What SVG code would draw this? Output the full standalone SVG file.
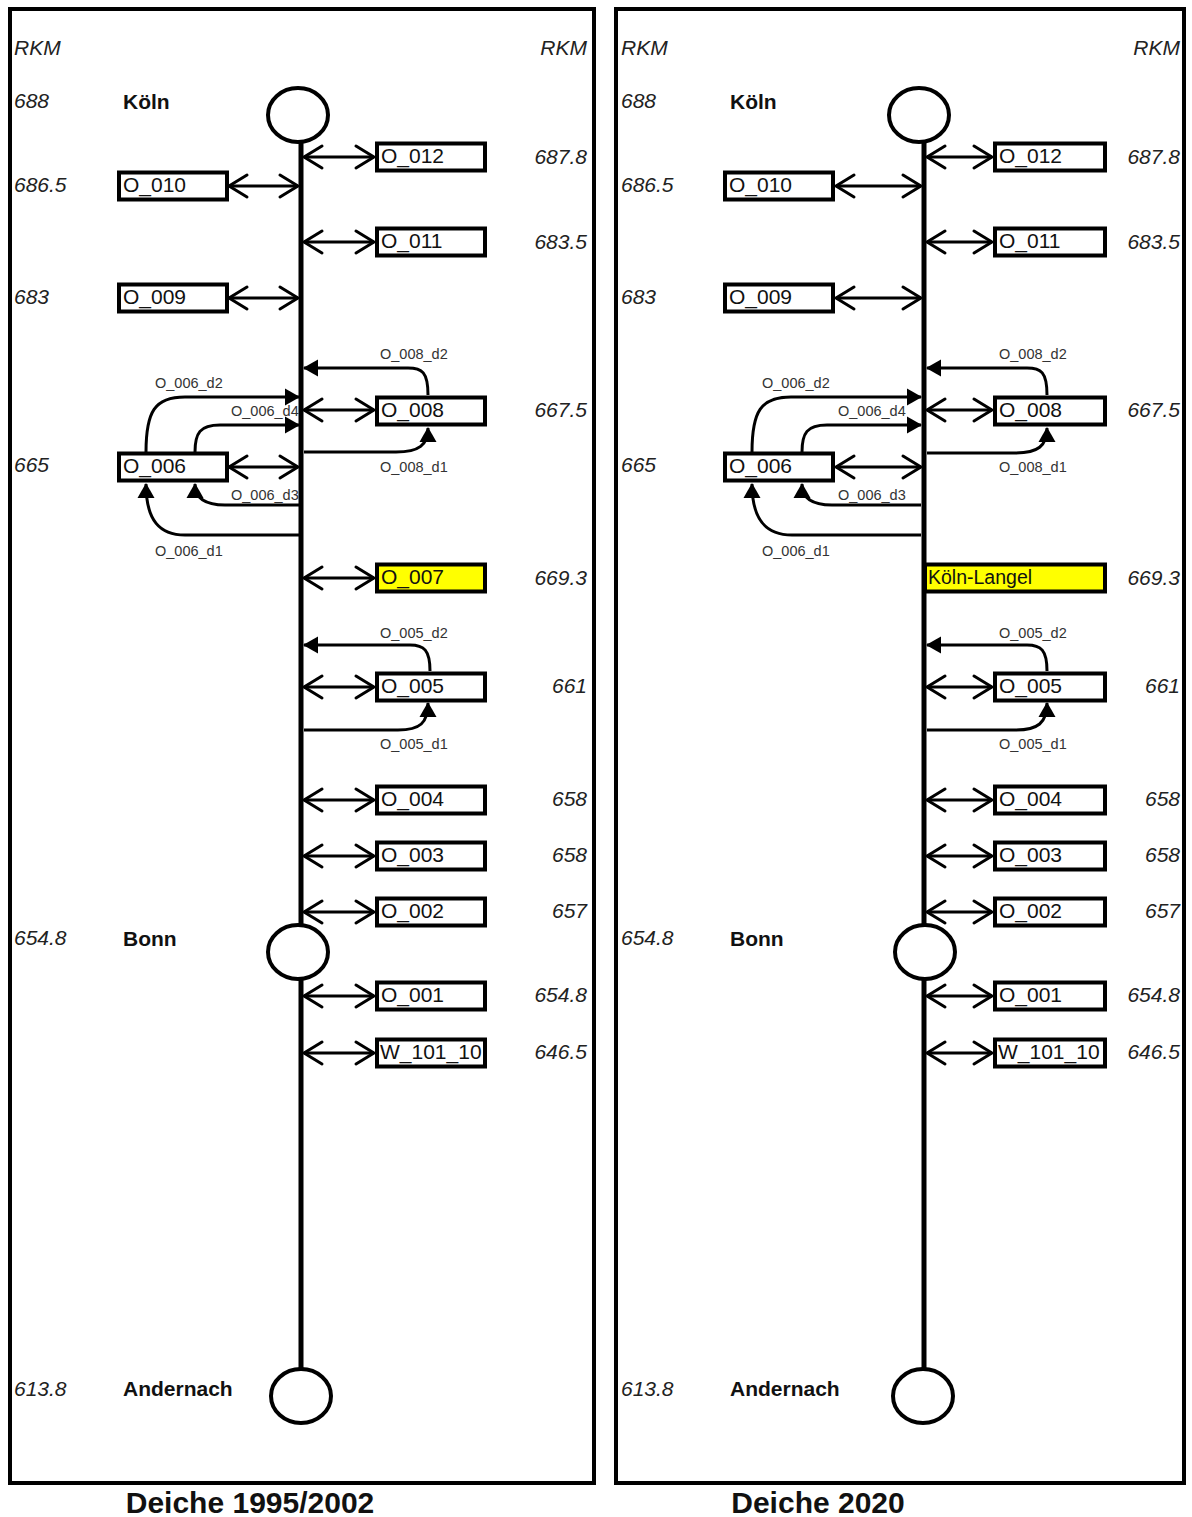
<svg xmlns="http://www.w3.org/2000/svg" width="1192" height="1517" viewBox="0 0 1192 1517">
<style>
.panel{fill:none;stroke:#000;stroke-width:4}
.spine{stroke:#000;stroke-width:5}
.city{fill:#fff;stroke:#000;stroke-width:4}
.box{fill:#fff;stroke:#000;stroke-width:4}
.hl{fill:#ffff00}
.bt{font-family:"Liberation Sans",Arial,sans-serif;font-size:21px;fill:#111}
.rkm{font-family:"Liberation Sans",Arial,sans-serif;font-size:21px;font-style:italic;fill:#222}
.rr{text-anchor:end}
.ct{font-family:"Liberation Sans",Arial,sans-serif;font-size:21px;font-weight:bold;fill:#111}
.title{font-family:"Liberation Sans",Arial,sans-serif;font-size:30px;font-weight:bold;fill:#111;text-anchor:middle}
.dl{font-family:"Liberation Sans",Arial,sans-serif;font-size:14.5px;fill:#333}
.dbl{stroke:#000;stroke-width:3;fill:none;marker-start:url(#open);marker-end:url(#open)}
.cv{stroke:#000;stroke-width:3;fill:none;marker-end:url(#fill)}
</style>
<defs>
<marker id="open" markerUnits="userSpaceOnUse" markerWidth="24" markerHeight="26" refX="19" refY="12" orient="auto-start-reverse" overflow="visible">
<path d="M1,1 L19,12 L1,23" fill="none" stroke="#000" stroke-width="3" stroke-linejoin="round" stroke-linecap="round"/>
</marker>
<marker id="fill" markerUnits="userSpaceOnUse" markerWidth="18" markerHeight="18" refX="14" refY="8.5" orient="auto" overflow="visible">
<path d="M0,0 L15,8.5 L0,17 z" fill="#000"/>
</marker>
<clipPath id="clipW1"><rect x="377" y="1039" width="108" height="27"/></clipPath>
<clipPath id="clipW2"><rect x="995" y="1039" width="110" height="27"/></clipPath>
</defs>

<rect class="panel" x="10" y="9" width="584" height="1474"/>
<rect class="panel" x="616" y="9" width="568" height="1474"/>

<g id="scale-labels">
<text class="rkm" x="14" y="55">RKM</text>
<text class="rkm rr" x="587" y="55">RKM</text>
<text class="rkm" x="14" y="108">688</text>
<text class="rkm" x="14" y="191.5">686.5</text>
<text class="rkm" x="14" y="304">683</text>
<text class="rkm" x="14" y="472">665</text>
<text class="rkm" x="14" y="945">654.8</text>
<text class="rkm" x="14" y="1395.5">613.8</text>
<text class="rkm rr" x="587" y="163.5">687.8</text>
<text class="rkm rr" x="587" y="248.5">683.5</text>
<text class="rkm rr" x="587" y="416.5">667.5</text>
<text class="rkm rr" x="587" y="584.5">669.3</text>
<text class="rkm rr" x="587" y="693">661</text>
<text class="rkm rr" x="587" y="806">658</text>
<text class="rkm rr" x="587" y="862">658</text>
<text class="rkm rr" x="587" y="918">657</text>
<text class="rkm rr" x="587" y="1002">654.8</text>
<text class="rkm rr" x="587" y="1059">646.5</text>

<text class="rkm" x="621" y="55">RKM</text>
<text class="rkm rr" x="1180" y="55">RKM</text>
<text class="rkm" x="621" y="108">688</text>
<text class="rkm" x="621" y="191.5">686.5</text>
<text class="rkm" x="621" y="304">683</text>
<text class="rkm" x="621" y="472">665</text>
<text class="rkm" x="621" y="945">654.8</text>
<text class="rkm" x="621" y="1395.5">613.8</text>
<text class="rkm rr" x="1180" y="163.5">687.8</text>
<text class="rkm rr" x="1180" y="248.5">683.5</text>
<text class="rkm rr" x="1180" y="416.5">667.5</text>
<text class="rkm rr" x="1180" y="584.5">669.3</text>
<text class="rkm rr" x="1180" y="693">661</text>
<text class="rkm rr" x="1180" y="806">658</text>
<text class="rkm rr" x="1180" y="862">658</text>
<text class="rkm rr" x="1180" y="918">657</text>
<text class="rkm rr" x="1180" y="1002">654.8</text>
<text class="rkm rr" x="1180" y="1059">646.5</text>
</g>

<g id="edge-labels">
<text class="dl" x="380" y="359">O_008_d2</text>
<text class="dl" x="380" y="472">O_008_d1</text>
<text class="dl" x="155" y="388">O_006_d2</text>
<text class="dl" x="231" y="416">O_006_d4</text>
<text class="dl" x="231" y="500">O_006_d3</text>
<text class="dl" x="155" y="556">O_006_d1</text>
<text class="dl" x="380" y="638">O_005_d2</text>
<text class="dl" x="380" y="749">O_005_d1</text>

<text class="dl" x="999" y="359">O_008_d2</text>
<text class="dl" x="999" y="472">O_008_d1</text>
<text class="dl" x="762" y="388">O_006_d2</text>
<text class="dl" x="838" y="416">O_006_d4</text>
<text class="dl" x="838" y="500">O_006_d3</text>
<text class="dl" x="762" y="556">O_006_d1</text>
<text class="dl" x="999" y="638">O_005_d2</text>
<text class="dl" x="999" y="749">O_005_d1</text>
</g>

<g id="connectors">
<line class="spine" x1="301" y1="140" x2="301" y2="1370"/>
<line class="spine" x1="924" y1="140" x2="924" y2="1370"/>

<path class="dbl" d="M304,157 H374"/>
<path class="dbl" d="M229,186 H298"/>
<path class="dbl" d="M304,242 H374"/>
<path class="dbl" d="M229,298 H298"/>
<path class="dbl" d="M304,410 H374"/>
<path class="dbl" d="M229,467 H298"/>
<path class="dbl" d="M304,578 H374"/>
<path class="dbl" d="M304,687 H374"/>
<path class="dbl" d="M304,800 H374"/>
<path class="dbl" d="M304,856 H374"/>
<path class="dbl" d="M304,912 H374"/>
<path class="dbl" d="M304,996 H374"/>
<path class="dbl" d="M304,1053 H374"/>

<path class="cv" d="M428,395 C428,372 422,368 408,368 L304,368"/>
<path class="cv" d="M304,452 L396,452 C419,452 428,445 428,428"/>
<path class="cv" d="M146,452 C146,411 155,397 185,397 L299,397"/>
<path class="cv" d="M195,452 C195,433 200,425 220,425 L299,425"/>
<path class="cv" d="M299,505 L225,505 C205,505 195,498 195,484"/>
<path class="cv" d="M299,535 L185,535 C160,535 146,521 146,484"/>
<path class="cv" d="M430,671 C430,650 424,645 410,645 L304,645"/>
<path class="cv" d="M304,730 L398,730 C420,730 428,723 428,703"/>

<path class="dbl" d="M927,157 H992"/>
<path class="dbl" d="M836,186 H921"/>
<path class="dbl" d="M927,242 H992"/>
<path class="dbl" d="M836,298 H921"/>
<path class="dbl" d="M927,410 H992"/>
<path class="dbl" d="M836,467 H921"/>
<path class="dbl" d="M927,687 H992"/>
<path class="dbl" d="M927,800 H992"/>
<path class="dbl" d="M927,856 H992"/>
<path class="dbl" d="M927,912 H992"/>
<path class="dbl" d="M927,996 H992"/>
<path class="dbl" d="M927,1053 H992"/>

<path class="cv" d="M1047,395 C1047,372 1041,368 1027,368 L927,368"/>
<path class="cv" d="M927,453 L1015,453 C1038,453 1047,446 1047,428"/>
<path class="cv" d="M752,452 C752,411 761,397 791,397 L921,397"/>
<path class="cv" d="M802,452 C802,433 807,425 827,425 L921,425"/>
<path class="cv" d="M921,505 L832,505 C812,505 802,498 802,484"/>
<path class="cv" d="M921,535 L792,535 C767,535 752,521 752,484"/>
<path class="cv" d="M1047,671 C1047,650 1041,645 1027,645 L927,645"/>
<path class="cv" d="M927,730 L1015,730 C1038,730 1047,723 1047,703"/>
</g>

<g id="L-koeln"><ellipse class="city" cx="298" cy="115" rx="30" ry="27"/><text class="ct" x="123" y="108.5">Köln</text></g>
<g id="L-bonn"><ellipse class="city" cx="298" cy="952" rx="30" ry="27"/><text class="ct" x="123" y="945.5">Bonn</text></g>
<g id="L-andernach"><ellipse class="city" cx="301" cy="1396" rx="30" ry="27"/><text class="ct" x="123" y="1395.5">Andernach</text></g>

<g id="L-O_012"><rect class="box" x="377" y="143.5" width="108" height="27"/><text class="bt" x="381" y="162.5">O_012</text></g>
<g id="L-O_010"><rect class="box" x="119" y="172.5" width="108" height="27"/><text class="bt" x="123" y="191.5">O_010</text></g>
<g id="L-O_011"><rect class="box" x="377" y="228.5" width="108" height="27"/><text class="bt" x="381" y="247.5">O_011</text></g>
<g id="L-O_009"><rect class="box" x="119" y="284.5" width="108" height="27"/><text class="bt" x="123" y="303.5">O_009</text></g>
<g id="L-O_008"><rect class="box" x="377" y="397.5" width="108" height="27"/><text class="bt" x="381" y="416.5">O_008</text></g>
<g id="L-O_006"><rect class="box" x="119" y="453.5" width="108" height="27"/><text class="bt" x="123" y="472.5">O_006</text></g>
<g id="L-O_007"><rect class="box hl" x="377" y="564.5" width="108" height="27"/><text class="bt" x="381" y="583.5">O_007</text></g>
<g id="L-O_005"><rect class="box" x="377" y="673.5" width="108" height="27"/><text class="bt" x="381" y="692.5">O_005</text></g>
<g id="L-O_004"><rect class="box" x="377" y="786.5" width="108" height="27"/><text class="bt" x="381" y="805.5">O_004</text></g>
<g id="L-O_003"><rect class="box" x="377" y="842.5" width="108" height="27"/><text class="bt" x="381" y="861.5">O_003</text></g>
<g id="L-O_002"><rect class="box" x="377" y="898.5" width="108" height="27"/><text class="bt" x="381" y="917.5">O_002</text></g>
<g id="L-O_001"><rect class="box" x="377" y="982.5" width="108" height="27"/><text class="bt" x="381" y="1001.5">O_001</text></g>
<g id="L-W_101_10"><rect class="box" x="377" y="1039.5" width="108" height="27"/><text class="bt" x="380" y="1058.5" clip-path="url(#clipW1)">W_101_10</text></g>

<g id="R-koeln"><ellipse class="city" cx="919" cy="115" rx="30" ry="27"/><text class="ct" x="730" y="108.5">Köln</text></g>
<g id="R-bonn"><ellipse class="city" cx="925" cy="952" rx="30" ry="27"/><text class="ct" x="730" y="945.5">Bonn</text></g>
<g id="R-andernach"><ellipse class="city" cx="923" cy="1396" rx="30" ry="27"/><text class="ct" x="730" y="1395.5">Andernach</text></g>

<g id="R-O_012"><rect class="box" x="995" y="143.5" width="110" height="27"/><text class="bt" x="999" y="162.5">O_012</text></g>
<g id="R-O_010"><rect class="box" x="725" y="172.5" width="108" height="27"/><text class="bt" x="729" y="191.5">O_010</text></g>
<g id="R-O_011"><rect class="box" x="995" y="228.5" width="110" height="27"/><text class="bt" x="999" y="247.5">O_011</text></g>
<g id="R-O_009"><rect class="box" x="725" y="284.5" width="108" height="27"/><text class="bt" x="729" y="303.5">O_009</text></g>
<g id="R-O_008"><rect class="box" x="995" y="397.5" width="110" height="27"/><text class="bt" x="999" y="416.5">O_008</text></g>
<g id="R-O_006"><rect class="box" x="725" y="453.5" width="108" height="27"/><text class="bt" x="729" y="472.5">O_006</text></g>
<g id="R-koeln-langel"><rect class="box hl" x="925" y="564.5" width="180" height="27"/><text class="bt" x="928" y="584" style="font-size:19.5px">Köln-Langel</text></g>
<g id="R-O_005"><rect class="box" x="995" y="673.5" width="110" height="27"/><text class="bt" x="999" y="692.5">O_005</text></g>
<g id="R-O_004"><rect class="box" x="995" y="786.5" width="110" height="27"/><text class="bt" x="999" y="805.5">O_004</text></g>
<g id="R-O_003"><rect class="box" x="995" y="842.5" width="110" height="27"/><text class="bt" x="999" y="861.5">O_003</text></g>
<g id="R-O_002"><rect class="box" x="995" y="898.5" width="110" height="27"/><text class="bt" x="999" y="917.5">O_002</text></g>
<g id="R-O_001"><rect class="box" x="995" y="982.5" width="110" height="27"/><text class="bt" x="999" y="1001.5">O_001</text></g>
<g id="R-W_101_10"><rect class="box" x="995" y="1039.5" width="110" height="27"/><text class="bt" x="998" y="1058.5" clip-path="url(#clipW2)">W_101_10</text></g>

<text class="title" x="250" y="1513">Deiche 1995/2002</text>
<text class="title" x="818" y="1513">Deiche 2020</text>
</svg>
